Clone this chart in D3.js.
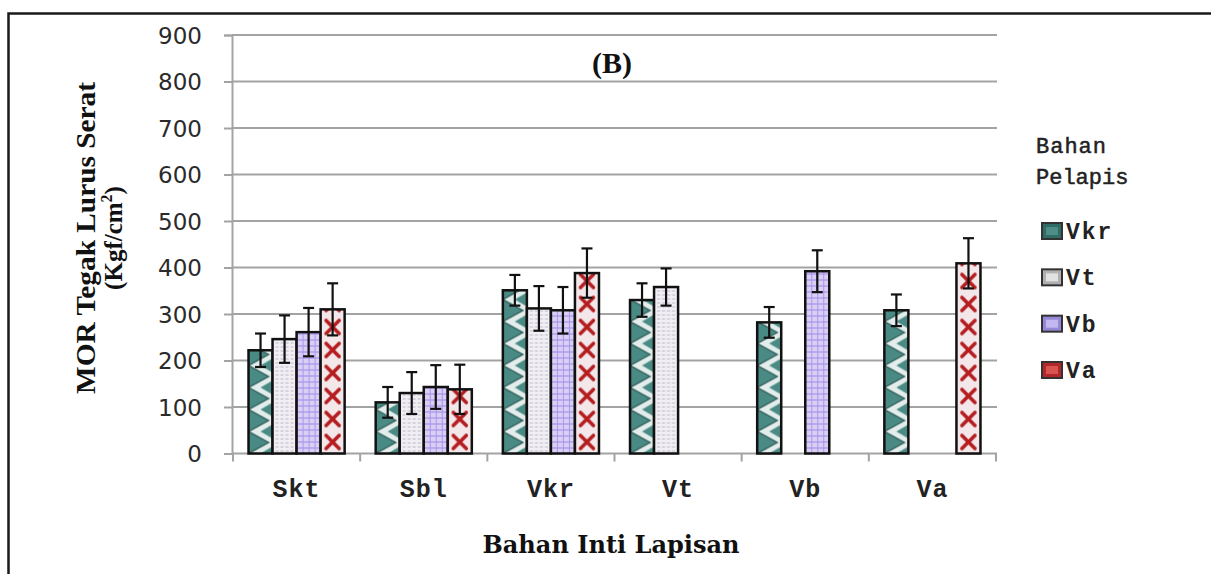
<!DOCTYPE html>
<html>
<head>
<meta charset="utf-8">
<script src="https://cdn.jsdelivr.net/npm/d3@7"></script>
<style>
  html, body { margin: 0; padding: 0; background: #fff; overflow: hidden; }
  svg { display: block; }
</style>
</head>
<body>
<svg id="chart" width="1211" height="574"></svg>
<script>
// Core material groups on the x axis
const categories = ["Skt", "Sbl", "Vkr", "Vt", "Vb", "Va"];
// Coating materials (legend series)
const seriesNames = ["Vkr", "Vt", "Vb", "Va"];
// Mean MOR values per core group (null = not tested)
const vkrMean = [222, 110, 351, 330, 282, 308];
const vtMean  = [246, 130, 312, 358, null, null];
const vbMean  = [261, 143, 308, null, 392, null];
const vaMean  = [310, 138, 388, null, null, 409];
// Standard deviations for the error bars
const vkrErr = [36, 33, 33, 36, 33, 34];
const vtErr  = [51, 45, 48, 40, null, null];
const vbErr  = [52, 47, 50, null, 45, null];
const vaErr  = [56, 53, 53, null, null, 54];
// Y axis ticks
const yTicks = [0, 100, 200, 300, 400, 500, 600, 700, 800, 900];

const means = [vkrMean, vtMean, vbMean, vaMean];
const errs = [vkrErr, vtErr, vbErr, vaErr];

const svg = d3.select("#chart");

// outer frame (top and left edges)
svg.append("path")
  .attr("d", "M8.5,574 V13.5 H1211")
  .attr("fill", "none").attr("stroke", "#1a1a1a").attr("stroke-width", 2.5);

const x0 = d3.scaleBand().domain(categories).range([233, 996]).paddingInner(0).paddingOuter(0);
const x1 = d3.scaleBand().domain(seriesNames).range([0, x0.bandwidth()]).paddingInner(0).paddingOuter(0.646);
const y = d3.scaleLinear().domain([0, 900]).range([453.5, 35]);

// ---- fill patterns ----
const defs = svg.append("defs");

// Vkr: teal arrowhead lattice
const pVkr = defs.append("pattern").attr("id", "pat-Vkr")
  .attr("patternUnits", "userSpaceOnUse").attr("width", x1.bandwidth()).attr("height", 22);
pVkr.append("rect").attr("width", 30).attr("height", 22).attr("fill", "#e3edeb");
pVkr.append("polygon").attr("points", "0,0 20,11 0,22").attr("fill", "#4a8a85");
pVkr.append("polygon").attr("points", "24,0 24,7 12,0").attr("fill", "#4a8a85");
pVkr.append("polygon").attr("points", "24,22 24,15 12,22").attr("fill", "#4a8a85");
pVkr.append("polyline").attr("points", "0,0 20,11 0,22").attr("fill", "none").attr("stroke", "#2e5d59").attr("stroke-width", 1.4);

// Vt: pale grey with fine horizontal dashes
const pVt = defs.append("pattern").attr("id", "pat-Vt")
  .attr("patternUnits", "userSpaceOnUse").attr("width", x1.bandwidth()).attr("height", 4);
pVt.append("rect").attr("width", 30).attr("height", 4).attr("fill", "#f1eff3");
pVt.append("line").attr("x1", 3).attr("x2", 21).attr("y1", 1.5).attr("y2", 1.5)
  .attr("stroke", "#bdb6c9").attr("stroke-width", 1).attr("stroke-dasharray", "3,2");

// Vb: lavender plaid
const pVb = defs.append("pattern").attr("id", "pat-Vb")
  .attr("patternUnits", "userSpaceOnUse").attr("width", 6).attr("height", 6);
pVb.append("rect").attr("width", 6).attr("height", 6).attr("fill", "#d9cff5");
pVb.append("line").attr("x1", 0).attr("x2", 6).attr("y1", 0.5).attr("y2", 0.5).attr("stroke", "#9c86e6").attr("stroke-width", 1);
pVb.append("line").attr("x1", 0.5).attr("x2", 0.5).attr("y1", 0).attr("y2", 6).attr("stroke", "#a996ea").attr("stroke-width", 1);

// Va: red crosses on pale pink
const pVa = defs.append("pattern").attr("id", "pat-Va")
  .attr("patternUnits", "userSpaceOnUse").attr("width", x1.bandwidth()).attr("height", 23);
pVa.append("rect").attr("width", 30).attr("height", 23).attr("fill", "#f3e7ea");
pVa.append("path").attr("d", "M5.5,5 L18.5,18 M18.5,5 L5.5,18")
  .attr("stroke", "#b51d1f").attr("stroke-width", 3.6).attr("stroke-linecap", "round");

// ---- grid and axes ----
const plot = svg.append("g");

plot.append("g").selectAll("line").data(yTicks.filter(d => d > 0)).join("line")
  .attr("x1", 232).attr("x2", 997)
  .attr("y1", d => y(d)).attr("y2", d => y(d))
  .attr("stroke", "#a3a3a3").attr("stroke-width", 2);

const yAxis = d3.axisLeft(y).tickValues(yTicks).tickSize(8).tickPadding(22).tickFormat(d3.format("d"));
const gy = plot.append("g").attr("transform", "translate(232,0)").call(yAxis);
gy.select(".domain").attr("stroke", "#a3a3a3").attr("stroke-width", 2);
gy.selectAll(".tick line").attr("stroke", "#a3a3a3").attr("stroke-width", 2);
gy.selectAll(".tick text")
  .attr("font-family", "'DejaVu Sans', sans-serif").attr("font-size", 23)
  .attr("fill", "#2a2a2a").attr("dy", "0.36em");

// x axis baseline and category separators
plot.append("line").attr("x1", 232).attr("x2", 997).attr("y1", y(0)).attr("y2", y(0))
  .attr("stroke", "#a3a3a3").attr("stroke-width", 2);
const sepX = categories.map(c => x0(c)).concat([x0(categories[categories.length - 1]) + x0.bandwidth()]);
plot.append("g").selectAll("line").data(sepX).join("line")
  .attr("x1", d => d).attr("x2", d => d).attr("y1", y(0)).attr("y2", y(0) + 8)
  .attr("stroke", "#a3a3a3").attr("stroke-width", 2);

plot.append("g").selectAll("text").data(categories).join("text")
  .attr("x", d => x0(d) + x0.bandwidth() / 2).attr("y", 497)
  .attr("text-anchor", "middle")
  .attr("font-family", "'Liberation Mono', monospace").attr("font-weight", "bold")
  .attr("font-size", 25).attr("letter-spacing", 1).attr("fill", "#222")
  .text(d => d);

// ---- bars ----
const records = [];
categories.forEach((c, ci) => {
  seriesNames.forEach((s, si) => {
    const v = means[si][ci];
    if (v != null) records.push({ cat: c, series: s, value: v, err: errs[si][ci] });
  });
});

const bars = plot.append("g").selectAll("g").data(records).join("g")
  .attr("transform", d => `translate(${x0(d.cat) + x1(d.series)},${y(0)})`);

bars.append("rect")
  .attr("x", 0).attr("width", x1.bandwidth())
  .attr("y", d => y(d.value) - y(0))
  .attr("height", d => y(0) - y(d.value))
  .attr("fill", d => `url(#pat-${d.series})`)
  .attr("stroke", "#111").attr("stroke-width", 2.5);

// error bars
const capW = 11;
const cx = d => x0(d.cat) + x1(d.series) + x1.bandwidth() / 2;
const eb = plot.append("g").selectAll("g").data(records).join("g")
  .attr("stroke", "#111").attr("stroke-width", 2.2);
eb.append("line")
  .attr("x1", cx).attr("x2", cx)
  .attr("y1", d => y(d.value + d.err)).attr("y2", d => y(d.value - d.err));
eb.append("line")
  .attr("x1", d => cx(d) - capW / 2).attr("x2", d => cx(d) + capW / 2)
  .attr("y1", d => y(d.value + d.err)).attr("y2", d => y(d.value + d.err));
eb.append("line")
  .attr("x1", d => cx(d) - capW / 2).attr("x2", d => cx(d) + capW / 2)
  .attr("y1", d => y(d.value - d.err)).attr("y2", d => y(d.value - d.err));

// ---- titles ----
svg.append("text").attr("x", 612).attr("y", 73).attr("text-anchor", "middle")
  .attr("font-family", "'Liberation Serif', serif").attr("font-weight", "bold")
  .attr("font-size", 30).attr("fill", "#111").text("(B)");

const yt = svg.append("g").attr("transform", "translate(0,238) rotate(-90)")
  .attr("font-family", "'Liberation Serif', serif").attr("font-weight", "bold").attr("fill", "#111");
yt.append("text").attr("x", 0).attr("y", 95).attr("text-anchor", "middle")
  .attr("font-size", 27).attr("textLength", 312).attr("lengthAdjust", "spacingAndGlyphs")
  .text("MOR Tegak Lurus Serat");
const yt2 = yt.append("text").attr("x", 0).attr("y", 122).attr("text-anchor", "middle").attr("font-size", 25);
yt2.append("tspan").text("(Kgf/cm");
yt2.append("tspan").attr("dy", -10).attr("font-size", 16).text("2");
yt2.append("tspan").attr("dy", 10).text(")");

svg.append("text").attr("x", 611).attr("y", 553).attr("text-anchor", "middle")
  .attr("font-family", "'DejaVu Serif', serif").attr("font-weight", "bold")
  .attr("font-size", 25).attr("textLength", 257).attr("lengthAdjust", "spacingAndGlyphs")
  .attr("fill", "#111").text("Bahan Inti Lapisan");

// ---- legend ----
const lg = svg.append("g").attr("font-family", "'Liberation Mono', monospace").attr("fill", "#222");
lg.append("text").attr("x", 1036).attr("y", 153).attr("font-size", 22)
  .attr("stroke", "#222").attr("stroke-width", 0.5).attr("letter-spacing", 1).text("Bahan");
lg.append("text").attr("x", 1036).attr("y", 184).attr("font-size", 22)
  .attr("stroke", "#222").attr("stroke-width", 0.5).attr("letter-spacing", 0).text("Pelapis");

const swatchFill = { Vkr: "#2f6c66", Vt: "#b0b0b0", Vb: "#9688d6", Va: "#b3272a" };
const swatchInner = { Vkr: "#4f8d88", Vt: "#e2e2e2", Vb: "#c4b8f0", Va: "#d9534f" };
const legendY = d3.scalePoint().domain(seriesNames).range([231, 370]);
const items = lg.selectAll("g.item").data(seriesNames).join("g").attr("class", "item")
  .attr("transform", d => `translate(1042,${legendY(d)})`);
items.append("rect").attr("x", 0).attr("y", -8).attr("width", 20).attr("height", 16)
  .attr("fill", d => swatchFill[d]).attr("stroke", "#333").attr("stroke-width", 2);
items.append("rect").attr("x", 4).attr("y", -4).attr("width", 12).attr("height", 8)
  .attr("fill", d => swatchInner[d]);
items.append("text").attr("x", 24).attr("y", 8).attr("font-size", 23)
  .attr("font-weight", "bold").attr("letter-spacing", 2).text(d => d);
</script>
</body>
</html>
